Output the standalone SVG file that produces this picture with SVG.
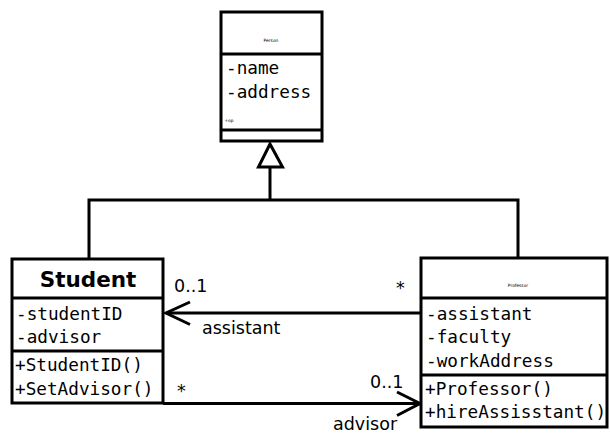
<svg xmlns="http://www.w3.org/2000/svg" width="610" height="437" viewBox="0 0 610 437">
<style>
.box{fill:#fff;stroke:#000;stroke-width:3}
.div{stroke:#000;stroke-width:3}
.mono{font-family:"DejaVu Sans Mono",monospace;font-size:17.7px;fill:#000}
.lbl{font-family:"DejaVu Sans",sans-serif;font-size:17.5px;fill:#000}
.tiny{font-family:"DejaVu Sans",sans-serif;font-size:4.4px;fill:#000;text-anchor:middle}
.ln{fill:none;stroke:#000;stroke-width:3}
</style>
<rect width="610" height="437" fill="#fff"/>
<g id="connectors">
<polyline class="ln" points="270,167 270,200"/>
<polyline class="ln" points="89,259 89,200 518,200 518,258"/>
<polygon points="270,144 258.5,167 282.5,167" fill="#fff" stroke="#000" stroke-width="3"/>
<line class="ln" x1="421" y1="313" x2="166" y2="313"/>
<polyline class="ln" points="190,302 166,313 190,324.5"/>
<line class="ln" x1="163" y1="403.5" x2="420" y2="403.5"/>
<polyline class="ln" points="397,392 420,403.5 397,415.5"/>
<text class="lbl" x="174" y="292">0..1</text>
<text class="lbl" x="396" y="294">*</text>
<text class="lbl" x="202" y="334">assistant</text>
<text class="lbl" x="177" y="397">*</text>
<text class="lbl" x="370" y="388">0..1</text>
<text class="lbl" x="333" y="430">advisor</text>
</g>
<g id="Person">
<rect class="box" x="221" y="12" width="101" height="129"/>
<line class="div" x1="221" y1="54" x2="322" y2="54"/>
<line class="div" x1="221" y1="130" x2="322" y2="130"/>
<text class="tiny" x="271" y="42">Person</text>
<text class="mono" x="226" y="74">-name</text>
<text class="mono" x="226" y="98">-address</text>
<text class="tiny" x="229" y="121.5">+op</text>
</g>
<g id="Student">
<rect class="box" x="12" y="259" width="151" height="144"/>
<line class="div" x1="12" y1="298" x2="163" y2="298"/>
<line class="div" x1="12" y1="351" x2="163" y2="351"/>
<text x="88" y="287" text-anchor="middle" style="font-family:'DejaVu Sans',sans-serif;font-weight:bold;font-size:21.5px">Student</text>
<text class="mono" x="16" y="320">-studentID</text>
<text class="mono" x="16" y="343">-advisor</text>
<text class="mono" x="15" y="371">+StudentID()</text>
<text class="mono" x="15" y="395">+SetAdvisor()</text>
</g>
<g id="Professor">
<rect class="box" x="421" y="258" width="186" height="169"/>
<line class="div" x1="421" y1="298" x2="607" y2="298"/>
<line class="div" x1="421" y1="375" x2="607" y2="375"/>
<text class="tiny" x="518" y="287">Professor</text>
<text class="mono" x="426" y="320">-assistant</text>
<text class="mono" x="426" y="343">-faculty</text>
<text class="mono" x="426" y="367">-workAddress</text>
<text class="mono" x="425" y="395">+Professor()</text>
<text class="mono" x="425" y="418">+hireAssisstant()</text>
</g>
</svg>
